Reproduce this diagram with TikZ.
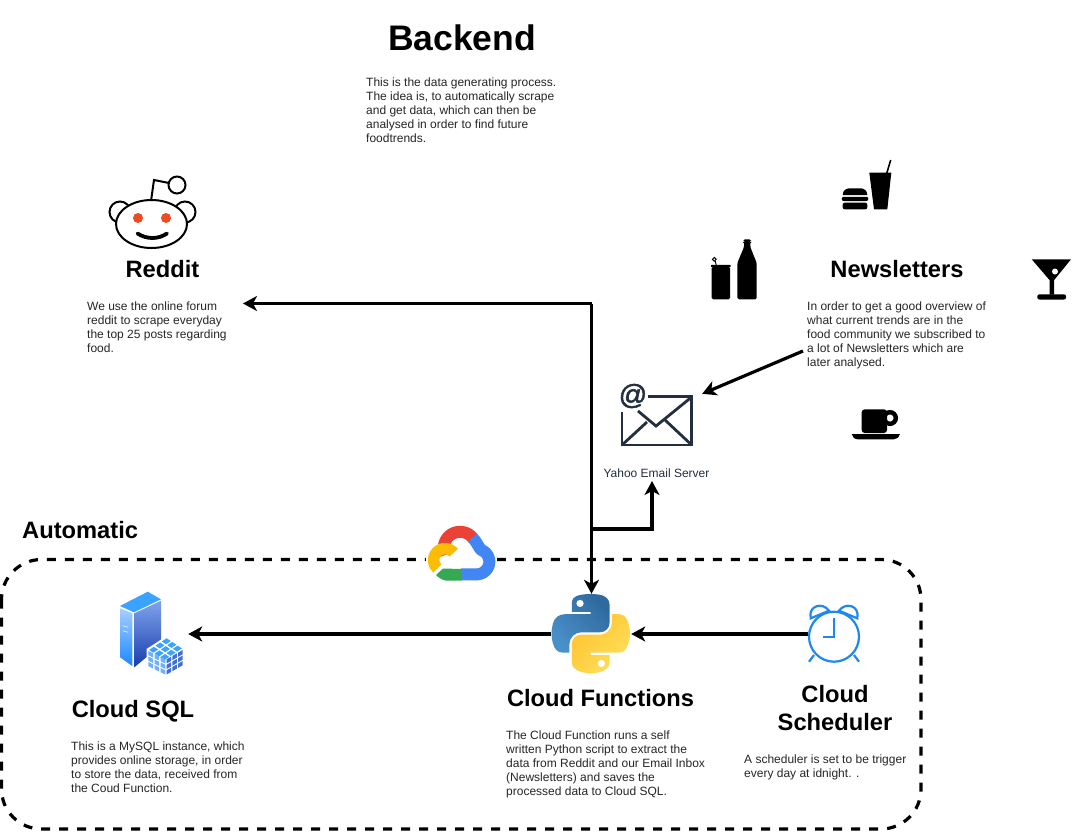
\documentclass[tikz,border=0pt]{standalone}
\usepackage{fontspec}
\setmainfont{Liberation Sans}
\newfontfamily\atfont[FakeBold=1.8]{Liberation Sans}
\usetikzlibrary{arrows.meta,calc}
\definecolor{mailink}{HTML}{232F3E}
\definecolor{clockblue}{HTML}{1E88F0}
\definecolor{gred}{HTML}{EA4335}
\definecolor{gblue}{HTML}{4285F4}
\definecolor{gyellow}{HTML}{FBBC05}
\definecolor{ggreen}{HTML}{34A853}
\definecolor{sqlA}{HTML}{3AA2FF}
\definecolor{sqlB}{HTML}{1E88FF}
\definecolor{sqlC}{HTML}{7FA4EC}
\definecolor{sqlD}{HTML}{1A3CAE}
\definecolor{sqlE}{HTML}{6DB0FF}
\definecolor{sqlF}{HTML}{3F6FD8}
\definecolor{pyblueA}{HTML}{4A90C8}
\definecolor{pyblueB}{HTML}{2F6A9E}
\definecolor{pyyellowA}{HTML}{FFE05A}
\definecolor{pyyellowB}{HTML}{FFC331}
\definecolor{redditred}{HTML}{F04A23}
\newcommand{\cubefacecells}[7]{%
  \foreach \ci in {0,1,2}{\foreach \cj in {0,1,2}{%
    \fill[#7] ({#1+(\ci+.12)*#3/3+(\cj+.12)*#5/3},{#2+(\ci+.12)*#4/3+(\cj+.12)*#6/3})
      -- ({#1+(\ci+.88)*#3/3+(\cj+.12)*#5/3},{#2+(\ci+.88)*#4/3+(\cj+.12)*#6/3})
      -- ({#1+(\ci+.88)*#3/3+(\cj+.88)*#5/3},{#2+(\ci+.88)*#4/3+(\cj+.88)*#6/3})
      -- ({#1+(\ci+.12)*#3/3+(\cj+.88)*#5/3},{#2+(\ci+.12)*#4/3+(\cj+.88)*#6/3}) -- cycle;
  }}}
\tikzset{
  bigtitle/.style={font=\fontsize{35.5}{40}\selectfont\bfseries,inner sep=0pt},
  heading/.style={font=\fontsize{23.7}{28}\selectfont\bfseries,inner sep=0pt,align=center},
  bodytext/.style={font=\fontsize{12}{14}\selectfont,inner sep=0pt,align=left,anchor=north west,text=black!85},
  iconbox/.style={inner sep=0pt,minimum width=#1},
  flow/.style={line width=3.2pt,-{Stealth[length=14pt,width=15pt,inset=4pt]}},
  ink/.style={fill=black,draw=none},
  redditline/.style={draw=black,line width=2pt,fill=white},
  mailline/.style={draw=mailink,line width=2.8pt,line join=miter},
  clockline/.style={draw=clockblue,line width=2.2pt},
}
\begin{document}
\begin{tikzpicture}[x=1pt,y=-1pt]
\useasboundingbox (0,0) rectangle (1073,831);
\fill[white] (0,0) rectangle (1073,831);

% automatic group
\draw[line width=3.2pt,dash pattern=on 9pt off 9pt,rounded corners=40pt] (1.5,559.5) rectangle (921,829);
\fill[white] (426,553) rectangle (497,566);

% named boxes for the icons
\node[iconbox=80pt,minimum height=80pt] (python) at (591,634) {};
\node[iconbox=52pt,minimum height=60pt] (clock) at (834,634) {};
\node[iconbox=76pt,minimum height=84pt] (sql) at (150,634) {};
\node[iconbox=90pt,minimum height=52pt] (mail) at (657,420) {};

% texts
\node[bigtitle] (backend) at (462,37.5) {Backend};
\node[bodytext] (backendtext) at (366,78) {This is the data generating process.\\The idea is, to automatically scrape\\and get data, which can then be\\analysed in order to find future\\foodtrends.};
\node[heading] (reddit) at (162.5,269) {Reddit};
\node[bodytext] (reddittext) at (87,302) {We use the online forum\\reddit to scrape everyday\\the top 25 posts regarding\\food.};
\node[heading] (news) at (897,269) {Newsletters};
\node[bodytext] (newstext) at (807,302) {In order to get a good overview of\\what current trends are in the\\food community we subscribed to\\a lot of Newsletters which are\\later analysed.};
\node[bodytext,text=mailink,anchor=center] (yahoo) at (656.5,473) {Yahoo Email Server};
\node[heading,anchor=west] (automatic) at (22,530) {Automatic};
\node[heading] (sqltitle) at (133,711) {Cloud SQL};
\node[bodytext] (sqltext) at (71,742) {This is a MySQL instance, which\\provides online storage, in order\\to store the data, received from\\the Coud Function.};
\node[heading] (functitle) at (600.5,698) {Cloud Functions};
\node[bodytext] (functext) at (506,731) {The Cloud Function runs a self\\written Python script to extract the\\data from Reddit and our Email Inbox\\(Newsletters) and saves the\\processed data to Cloud SQL.};
\node[heading] (schedtitle) at (835,708) {Cloud\\Scheduler};
\node[bodytext] (schedtext) at (744,755) {A scheduler is set to be trigger\\every day at idnight. .};

% connector anchors
\coordinate (redditport) at (243,303.5);
\coordinate (topturn) at (591.5,303.5);
\coordinate (branch) at (591.5,529);
\coordinate (branchturn) at (652,529);
\coordinate (yahooport) at (652,481);
\coordinate (newsport) at (803,351);

% connectors
\draw[flow] (topturn) -- (redditport);
\draw[flow] (topturn) -- (python.north -| topturn);
\draw[flow] (branch) -- (branchturn) -- (yahooport);
\draw[flow] (newsport) -- (mail.north east);
\draw[flow] (clock.west) -- (python.east);
\draw[flow] (python.west) -- (sql.east);

% reddit icon
\draw[redditline] (120,212) circle (10.5);
\draw[redditline] (185,212) circle (10.5);
\draw[black,line width=2pt,line join=miter] (151,201) -- (154,180) -- (169,183);
\draw[redditline] (177,185) circle (8.5);
\draw[redditline] (151.5,224) ellipse (35.5 and 24);
\fill[redditred] (138,218) circle (5);
\fill[redditred] (166,218) circle (5);
\draw[black,line width=3.8pt,line cap=round] (137.5,233.5) .. controls (147,239.5) and (158,239.5) .. (167,233.5);

% burger and drink
\fill[ink] (842.7,195) .. controls (843,190) and (846,188.3) .. (850,188.3) -- (860,188.3) .. controls (864,188.3) and (867,190) .. (867.3,195) -- cycle;
\fill[ink,rounded corners=2pt] (841.7,196.8) rectangle (868.3,201);
\fill[ink,rounded corners=2pt] (842.7,202.7) -- (867.3,202.7) -- (867.3,209.3) -- (842.7,209.3) -- cycle;
\fill[ink] (869.3,172.7) -- (891.3,172.7) -- (887.3,209.3) -- (874,209.3) -- cycle;
\draw[black,line width=1.6pt] (886.5,174) -- (890.7,160);

% can and bottle
\fill[ink,rounded corners=1.5pt] (711.7,266.7) rectangle (730,299.3);
\fill[ink,rounded corners=.5pt] (711,264.8) rectangle (730.7,267);
\draw[black,line width=1pt] (714.3,259.3) circle (1.9);
\draw[black,line width=1pt] (715.2,261) -- (716.2,265);
\fill[ink,rounded corners=1.5pt] (743.3,239.3) -- (751,239.3) -- (751,241.8) -- (750.3,241.8) -- (750.3,247) -- (756.7,263) -- (756.7,299.3) -- (737.3,299.3) -- (737.3,263) -- (744,247) -- (744,241.8) -- (743.3,241.8) -- cycle;

% martini
\fill[ink] (1031.7,259.3) -- (1071,259.3) -- (1054.2,280) -- (1054.2,294.5) -- (1049.5,294.5) -- (1049.5,280) -- cycle;
\fill[ink,rounded corners=2pt] (1037.3,294.3) rectangle (1066,299.5);
\fill[white] (1055,271.5) circle (3);

% coffee
\draw[black,line width=4.4pt] (890,418) circle (5.8);
\fill[ink,rounded corners=3pt] (861.7,409.3) -- (887,409.3) -- (887,433) -- (861.7,433) -- cycle;
\fill[ink] (851.7,434) -- (900,434) .. controls (899.5,437) and (897,439.3) .. (894,439.3) -- (858,439.3) .. controls (854.5,439.3) and (852.2,437) .. (851.7,434) -- cycle;

% mail icon
\draw[mailline] (648,396.5) -- (691.7,396.5) -- (691.7,445) -- (622,445) -- (622,412);
\draw[mailline] (638,411) -- (656,426) -- (691.7,397);
\draw[mailline] (622,445) -- (647,422);
\draw[mailline] (691.7,445) -- (665,420);
\node[inner sep=0pt,text=mailink,font=\fontsize{28}{30}\selectfont\atfont] (mailat) at (633,396) {@};

% google cloud
\draw[gred,line width=12pt] plot[domain=35:205,samples=40] ({460+16.2*cos(\x)},{548-16.2*sin(\x)});
\draw[gblue,line width=12pt,line join=round] (472.4,537.6) .. controls (476,541) and (478,546) .. (481,549.9) -- plot[domain=70:-90,samples=30] ({476.7+12.6*cos(\x)},{561.7-12.6*sin(\x)}) -- (461,574.3);
\fill[ggreen] (461.7,569) -- (461.7,580.7) -- (446,580.7) .. controls (441,579.5) and (438,577) .. (436,575) -- (443,568.5) -- cycle;
\draw[gyellow,line width=11.5pt] plot[domain=40:228,samples=40] ({445+11.3*cos(\x)},{560-11.3*sin(\x)});

% python logo
\begin{scope}[shift={(551.5,594)},x=.706pt,y=-.706pt]
\shade[top color=pyblueB,bottom color=pyblueA,shading angle=-45] (54.92,0) .. controls (50.34,.02) and (45.96,.41) .. (42.11,1.09) .. controls (30.76,3.10) and (28.70,7.29) .. (28.70,15.03) -- (28.70,25.25) -- (55.51,25.25) -- (55.51,28.66) -- (18.64,28.66) .. controls (10.85,28.66) and (4.02,33.34) .. (1.89,42.25) .. controls (-.57,52.46) and (-.68,58.84) .. (1.89,69.50) .. controls (3.80,77.44) and (8.35,83.09) .. (16.14,83.09) -- (25.36,83.09) -- (25.36,70.84) .. controls (25.36,61.99) and (33.02,54.18) .. (42.11,54.18) -- (68.89,54.18) .. controls (76.34,54.18) and (82.30,48.04) .. (82.30,40.55) -- (82.30,15.02) .. controls (82.30,7.75) and (76.17,2.30) .. (68.89,1.08) .. controls (64.28,.33) and (59.50,-.02) .. (54.92,0) -- cycle;
\fill[white] (40.42,13.34) circle (3.6pt);
\shade[top color=pyyellowB,bottom color=pyyellowA,shading angle=45] (85.64,28.66) -- (85.64,40.56) .. controls (85.64,49.79) and (77.81,57.56) .. (68.89,57.56) -- (42.11,57.56) .. controls (34.77,57.56) and (28.70,63.84) .. (28.70,71.19) -- (28.70,96.72) .. controls (28.70,103.99) and (35.02,108.26) .. (42.11,110.35) .. controls (50.60,112.85) and (58.74,113.30) .. (68.89,110.35) .. controls (75.64,108.40) and (82.30,104.46) .. (82.30,96.72) -- (82.30,86.50) -- (55.52,86.50) -- (55.52,83.09) -- (95.71,83.09) .. controls (103.50,83.09) and (106.41,77.65) .. (109.12,69.50) .. controls (111.92,61.10) and (111.86,53.02) .. (109.12,42.25) .. controls (107.19,34.49) and (103.52,28.66) .. (95.71,28.66) -- cycle;
\fill[white] (70.58,98.41) circle (3.6pt);
\end{scope}

% cloud sql icon
\fill[sqlA] (120,606) -- (147.7,591.7) -- (161,599.3) -- (134,612.3) -- cycle;
\shade[top color=white!60!sqlB,bottom color=sqlB] (120,608.3) -- (132.3,613.3) -- (132.3,666) -- (120,657.3) -- cycle;
\shade[top color=sqlC,bottom color=sqlD] (134.3,613.3) -- (161,600.7) -- (161,645) -- (134.3,667.3) -- cycle;
\draw[white!80!sqlB,line width=.8pt] (122.7,625.7) -- (128.3,627.3) (122.7,630.7) -- (128.3,632.3);
\fill[white] (146.5,649) -- (166.7,636) -- (184.5,648) -- (184.5,667) -- (166,677) -- (146.5,667) -- cycle;
\cubefacecells{166.7}{637.3}{16.6}{11}{-19}{12.7}{sqlA}
\cubefacecells{147.7}{650}{18.3}{9}{0}{16.5}{sqlE}
\cubefacecells{166}{659}{17.3}{-10}{0}{16.5}{sqlF}

% clock icon
\draw[clockline] (834,636.7) circle (25);
\draw[clockline,line join=miter] (834,618.3) -- (834,637.3) -- (823.3,637.3);
\draw[clockline] (814,655) -- (809,661.7) (854,655) -- (859,661.7);
\draw[clockline] (810.7,618.3) .. controls (808,605) and (823,602) .. (829,610.7) -- cycle;
\draw[clockline] (857.3,618.3) .. controls (860,605) and (845,602) .. (839,610.7) -- cycle;
\end{tikzpicture}
\end{document}
